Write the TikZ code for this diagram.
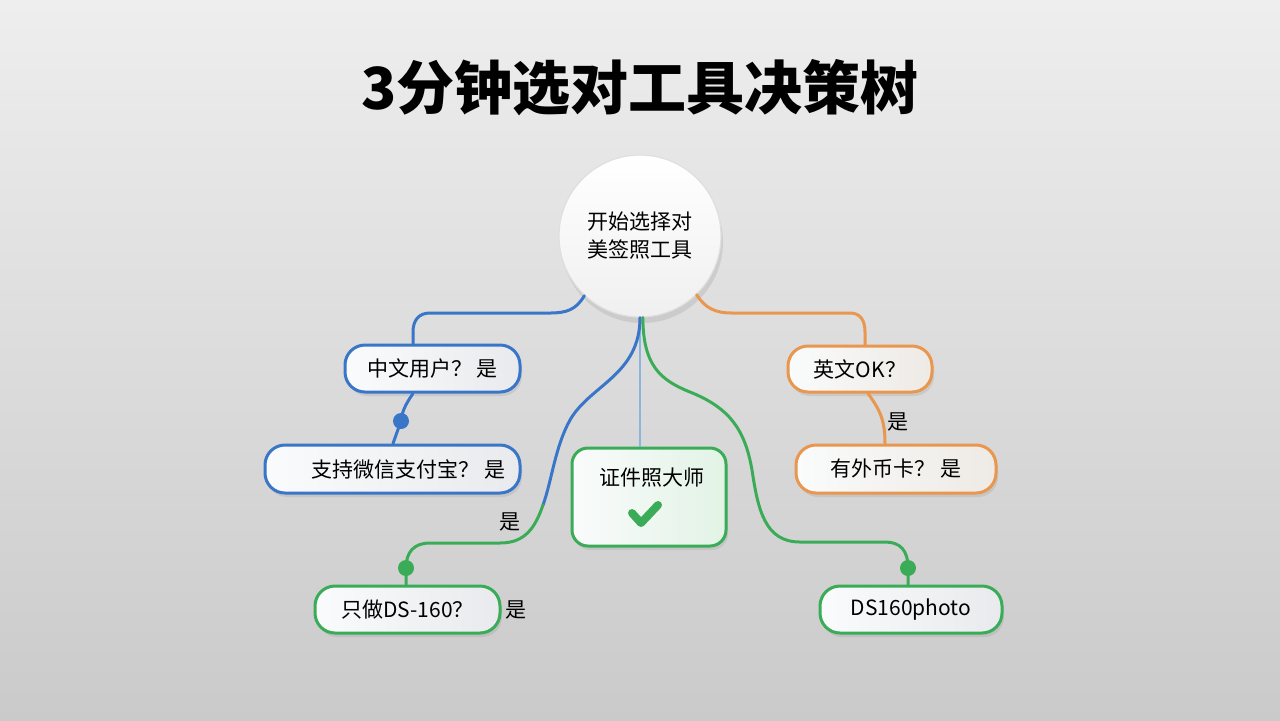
\documentclass[tikz,border=0pt]{standalone}
\usepackage{fontspec}
\setmainfont{Noto Sans CJK SC}
\usetikzlibrary{shadows}
\definecolor{cblue}{RGB}{58,118,200}
\definecolor{clblue}{RGB}{140,180,225}
\definecolor{cgreen}{RGB}{58,172,88}
\definecolor{corange}{RGB}{233,150,78}
\definecolor{bgtop}{RGB}{238,238,238}
\definecolor{bgbot}{RGB}{202,202,202}
\definecolor{pillL}{RGB}{250,251,252}
\definecolor{pillR}{RGB}{232,234,237}
\definecolor{certR}{RGB}{226,243,229}
\definecolor{orR}{RGB}{238,234,229}
\begin{document}
\begin{tikzpicture}[x=0.5pt,y=-0.5pt,
  pill/.style={draw, line width=1.5pt, rounded corners=10pt, inner sep=0pt,
    font=\fontsize{10.5}{13}\selectfont, left color=pillL, right color=pillR,
    drop shadow={opacity=0.18, shadow xshift=1pt, shadow yshift=-2pt}},
  conn/.style={line width=1.5pt, line cap=round},
  lbl/.style={font=\fontsize{10.5}{13}\selectfont, inner sep=0pt},
  dot/.style={circle, fill, inner sep=0pt, minimum size=8pt}]
\useasboundingbox (0,0) rectangle (1280,720);
\shade[top color=bgtop, bottom color=bgbot] (0,0) rectangle (1280,720);

% title
\node[font=\fontsize{29}{34}\selectfont\bfseries] (title) at (640,88) {3分钟选对工具决策树};

% start circle
\node[circle, minimum size=81pt, draw=gray!25, line width=0.6pt,
  top color=white, bottom color=gray!12, align=center,
  font=\fontsize{10.5}{14}\selectfont,
  drop shadow={opacity=0.2, shadow xshift=1pt, shadow yshift=-3pt}] (start) at (640,236) {开始选择对\\美签照工具};

% nodes
\node[pill, draw=cblue, minimum width=87.5pt, minimum height=23.5pt] (zh) at (432.5,368.5) {中文用户？ 是};
\node[pill, draw=cblue, minimum width=127.5pt, minimum height=24pt] (wx) at (392.5,469) {\hspace{16pt}支持微信支付宝？ 是};
\node[pill, draw=cgreen, rounded corners=8pt, right color=certR, minimum width=77pt, minimum height=49pt] (cert) at (649,497) {};
\node[lbl] (certlbl) at (652,478) {证件照大师};
\node[pill, draw=cgreen, minimum width=92.5pt, minimum height=23.5pt] (ds) at (407.5,609.5) {只做DS-160？};
\node[pill, draw=corange, right color=orR, minimum width=72pt, minimum height=23pt] (en) at (860,369) {英文OK？};
\node[pill, draw=corange, right color=orR, minimum width=100pt, minimum height=24pt] (card) at (896,469) {有外币卡？ 是};
\node[pill, draw=cgreen, minimum width=91pt, minimum height=23.5pt] (photo) at (911,609.5) {DS160photo};

% check mark
\draw[cgreen, line width=4pt, line cap=round, line join=round] (632,513) -- (641,523) -- (658,505);

% labels
\node[lbl] (y1) at (510,522) {是};
\node[lbl] (y2) at (516,610) {是};
\node[lbl] (y3) at (898,422) {是};

% connectors
\draw[conn, cblue] (start.227) .. controls (576,310) and (566,313) .. (550,313) -- (430,313) .. controls (419,313) and (413,320) .. (413,332) -- ([xshift=-9.75pt]zh.north);
\coordinate (dotb) at (401,421);
\draw[conn, cblue] ([xshift=-9.75pt]zh.south) .. controls (405,405) and (402,412) .. (dotb) -- ([xshift=0.25pt]wx.north);
\node[dot, cblue] (dotbn) at (dotb) {};

\draw[line width=1.2pt, clblue] (start.south) -- ([xshift=-4.5pt]cert.north);

\coordinate (mid) at (543,505);
\draw[conn, cblue] (start.south) .. controls (640,375) and (590,385) .. (570,420) .. controls (555,447) and (552,480) .. (mid);
\coordinate (dotg) at (406,568);
\draw[conn, cgreen] (mid) .. controls (535,528) and (525,543) .. (500,543) -- (430,543) .. controls (414,543) and (406,552) .. (dotg) -- ([xshift=-0.75pt]ds.north);
\node[dot, cgreen] (dotgn) at (dotg) {};

\coordinate (dotr) at (908,568);
\draw[conn, cgreen] (start.-88) .. controls (643,365) and (660,380) .. (690,392) .. controls (730,408) and (745,430) .. (752,470) .. controls (758,510) and (765,542) .. (800,542) -- (885,542) .. controls (900,542) and (908,550) .. (dotr) -- ([xshift=-1.5pt]photo.north);
\node[dot, cgreen] (dotrn) at (dotr) {};

\draw[conn, corange] (start.-46) .. controls (705,308) and (715,313) .. (732,313) -- (850,313) .. controls (860,313) and (865,320) .. (865,332) -- ([xshift=2.5pt]en.north);
\draw[conn, corange] ([xshift=4pt]en.south) .. controls (880,410) and (885,420) .. ([xshift=-5.5pt]card.north);
\end{tikzpicture}
\end{document}
